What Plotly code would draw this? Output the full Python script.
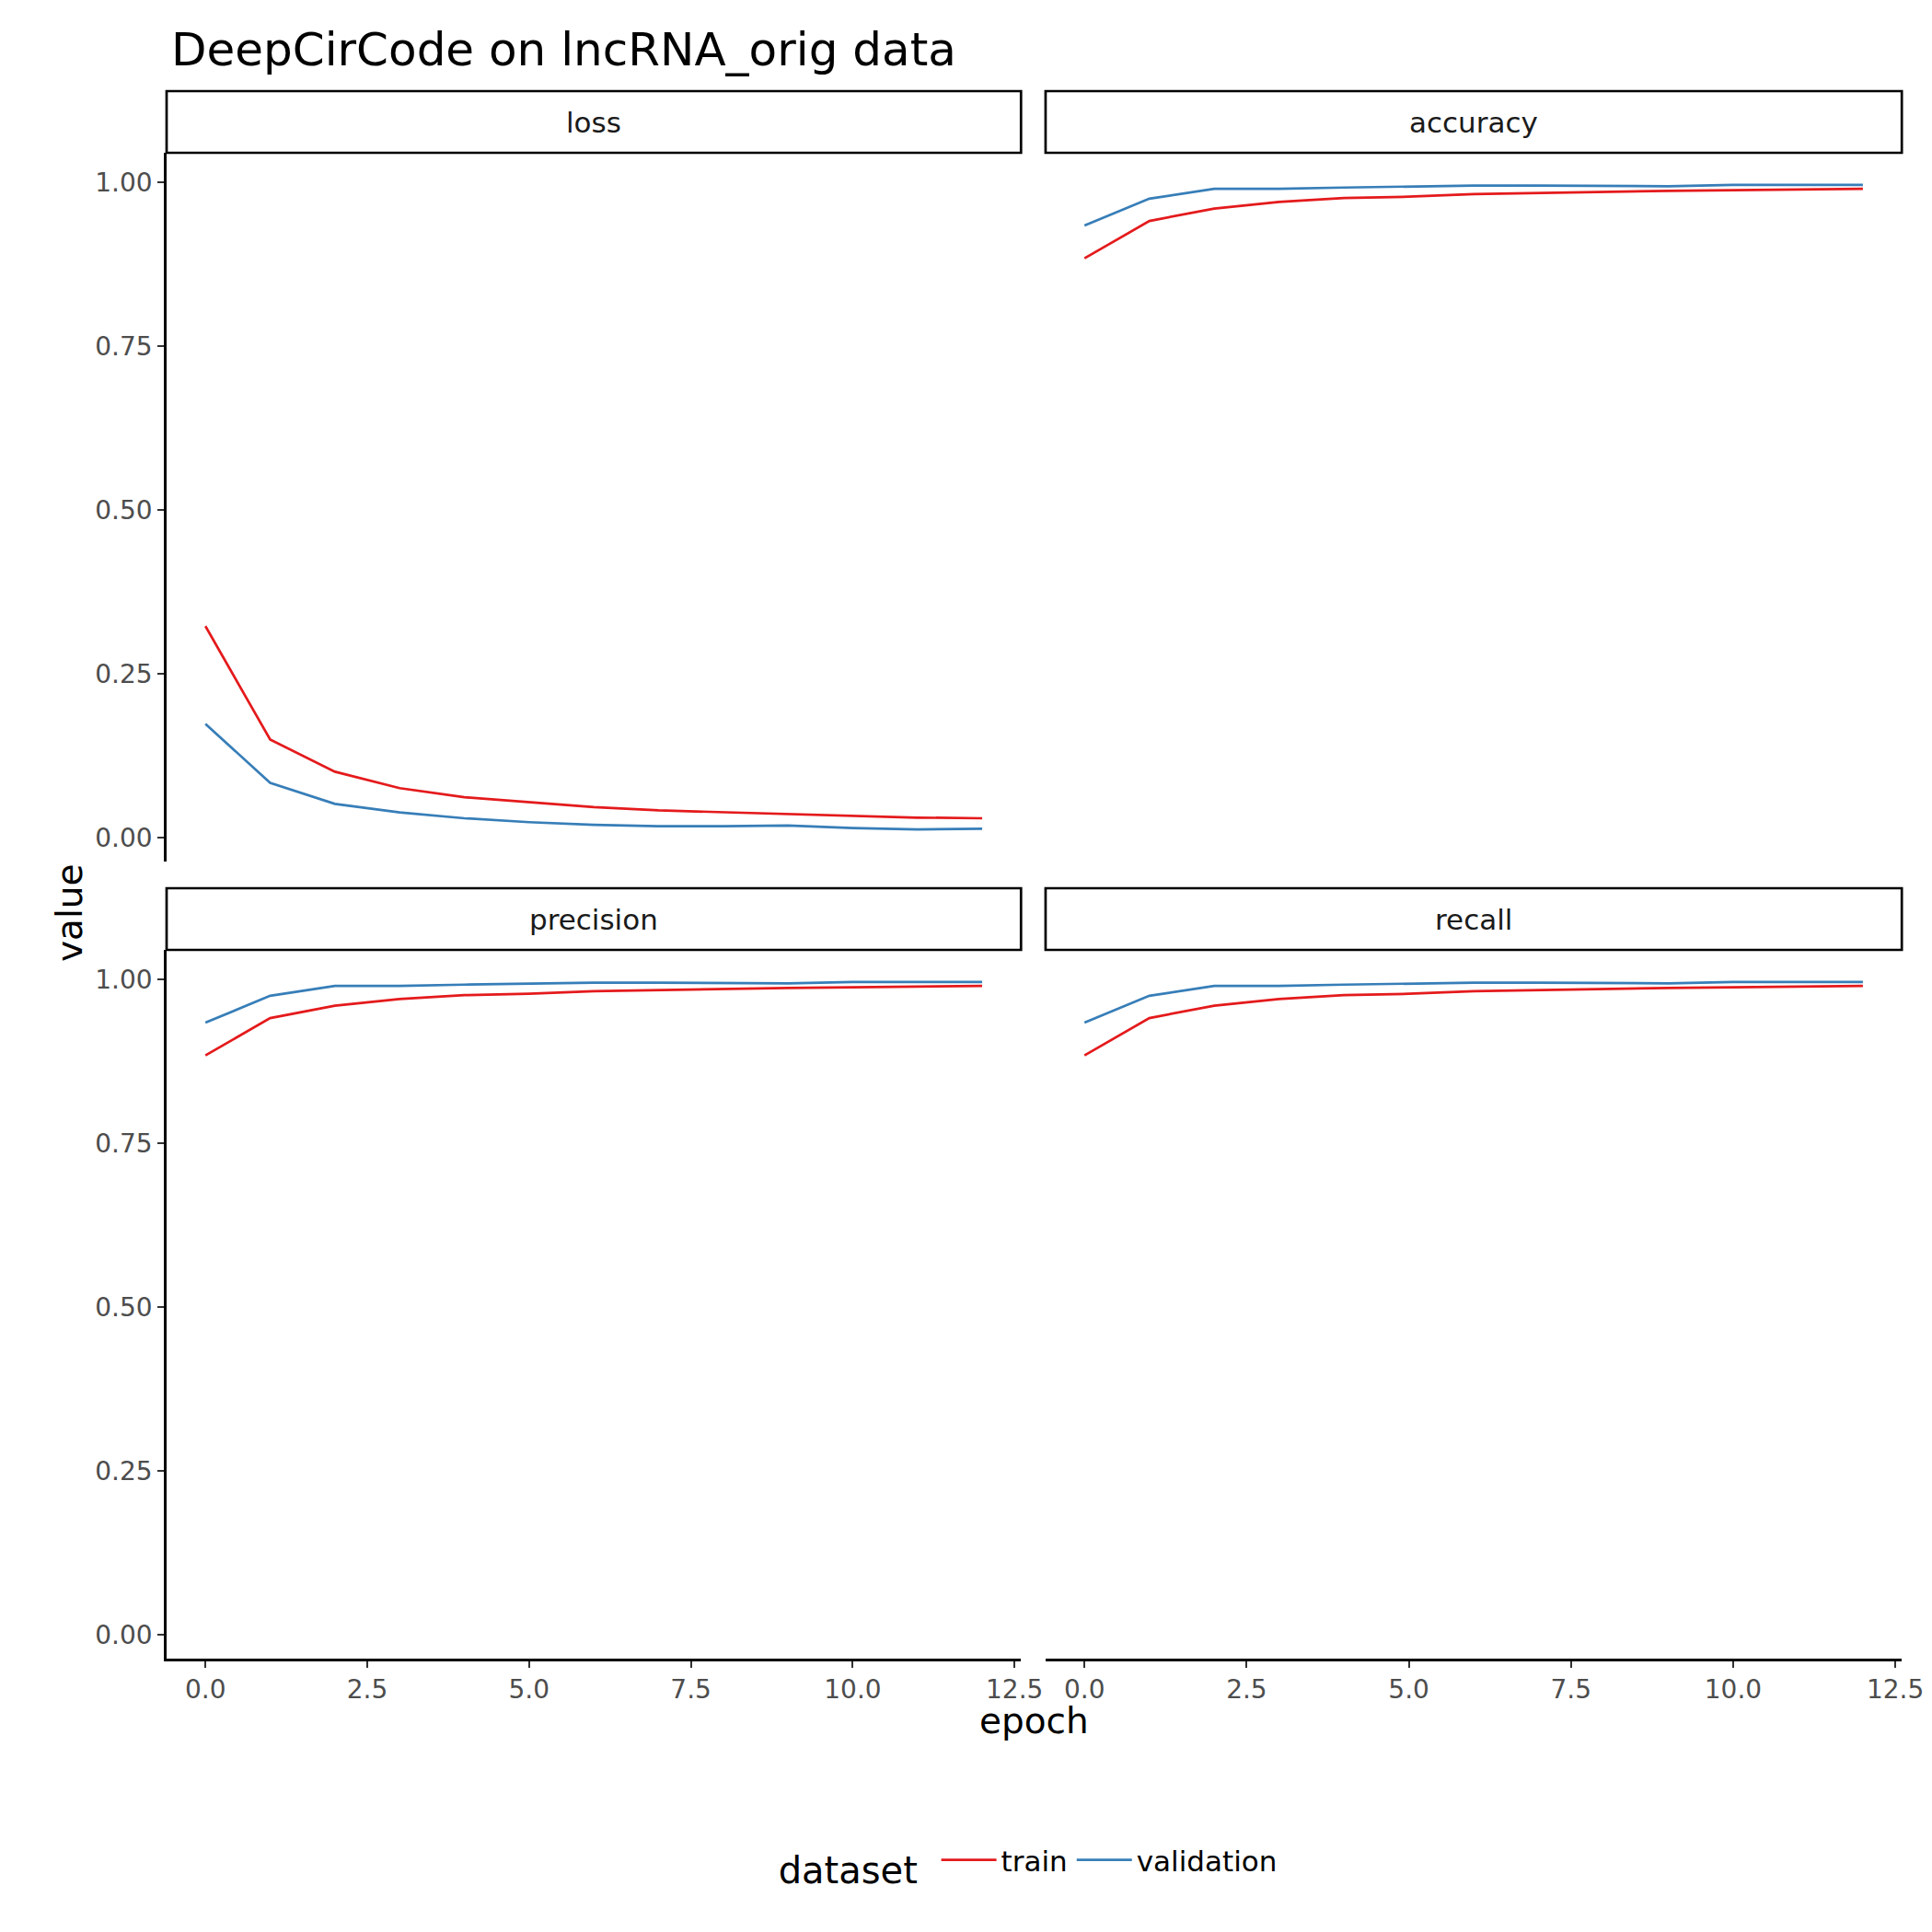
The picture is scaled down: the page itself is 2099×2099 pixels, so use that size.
import plotly.graph_objects as go

epoch = list(range(13))
loss_train = [0.323, 0.150, 0.101, 0.076, 0.062, 0.055, 0.047, 0.042, 0.039, 0.037, 0.034, 0.031, 0.030]
loss_val = [0.174, 0.084, 0.052, 0.039, 0.030, 0.024, 0.020, 0.018, 0.018, 0.019, 0.015, 0.013, 0.014]
acc_train = [0.884, 0.941, 0.960, 0.970, 0.976, 0.978, 0.982, 0.984, 0.985, 0.987, 0.988, 0.989, 0.990]
acc_val = [0.934, 0.975, 0.990, 0.990, 0.992, 0.994, 0.995, 0.995, 0.995, 0.994, 0.996, 0.996, 0.996]
prec_train = acc_train
prec_val = acc_val
rec_train = acc_train
rec_val = acc_val

panels = [
    ("loss", loss_train, loss_val),
    ("accuracy", acc_train, acc_val),
    ("precision", prec_train, prec_val),
    ("recall", rec_train, rec_val),
]

W = 2099
RED = "#e41a1c"
BLUE = "#377eb8"

# pixel boxes of the panels: (left, right, top, bottom)
xcols = [(175, 1114), (1141, 2082)]
yrows = [(158, 928), (1024, 1794)]
strip_h = 67

fig = go.Figure()
shapes = []
annotations = []
for i, (name, tr, va) in enumerate(panels):
    r, c = divmod(i, 2)
    n = i + 1
    xa = "x" if n == 1 else f"x{n}"
    ya = "y" if n == 1 else f"y{n}"
    fig.add_trace(go.Scatter(x=epoch, y=tr, mode="lines", name="train", legendgroup="train",
                             showlegend=(i == 0), line=dict(color=RED, width=2.7), xaxis=xa, yaxis=ya))
    fig.add_trace(go.Scatter(x=epoch, y=va, mode="lines", name="validation", legendgroup="validation",
                             showlegend=(i == 0), line=dict(color=BLUE, width=2.7), xaxis=xa, yaxis=ya))
    l, rr = xcols[c]
    t, b = yrows[r]
    key = "" if n == 1 else str(n)
    fig.update_layout(**{
        f"xaxis{key}": dict(domain=[l / W, rr / W], range=[-0.6, 12.6], anchor=ya,
                            tickvals=[0, 2.5, 5, 7.5, 10, 12.5],
                            ticktext=["0.0", "2.5", "5.0", "7.5", "10.0", "12.5"],
                            showticklabels=(r == 1), showline=(r == 1), linecolor="black", linewidth=2.5,
                            ticks="outside" if r == 1 else "", ticklen=7, tickcolor="#333", tickwidth=2,
                            showgrid=False, zeroline=False,
                            tickfont=dict(size=28, color="#4d4d4d")),
        f"yaxis{key}": dict(domain=[1 - b / W, 1 - t / W], range=[-0.036, 1.045], anchor=xa,
                            tickvals=[0, 0.25, 0.5, 0.75, 1.0],
                            ticktext=["0.00", "0.25", "0.50", "0.75", "1.00"],
                            showticklabels=(c == 0), showline=(c == 0), linecolor="black", linewidth=2.5,
                            ticks="outside" if c == 0 else "", ticklen=7, tickcolor="#333", tickwidth=2,
                            showgrid=False, zeroline=False,
                            tickfont=dict(size=28, color="#4d4d4d")),
    })
    shapes.append(dict(type="rect", xref="paper", yref="paper", x0=l / W, x1=rr / W,
                       y0=1 - t / W, y1=1 - (t - strip_h) / W, line=dict(color="black", width=2.7),
                       fillcolor="white"))
    annotations.append(dict(text=name, xref="paper", yref="paper", x=(l + rr) / 2 / W,
                            y=1 - (t - strip_h / 2) / W, showarrow=False,
                            font=dict(size=31, color="#1a1a1a"), xanchor="center", yanchor="middle"))

annotations.append(dict(text="epoch", xref="paper", yref="paper", x=(175 + 2082) / 2 / W, y=1 - 1886 / W,
                        showarrow=False, font=dict(size=39, color="black")))
annotations.append(dict(text="value", xref="paper", yref="paper", x=43 / W, y=1 - 984 / W, textangle=-90,
                        showarrow=False, font=dict(size=39, color="black")))

fig.update_layout(
    width=W, height=W,
    margin=dict(l=0, r=0, t=0, b=0),
    paper_bgcolor="white", plot_bgcolor="white",
    font=dict(family="DejaVu Sans", color="black"),
    title=dict(text="DeepCirCode on lncRNA_orig data", x=178 / W, xanchor="left",
               y=1 - 45 / W, yanchor="middle", font=dict(size=50, color="black")),
    shapes=shapes, annotations=annotations,
    legend=dict(orientation="h", x=0.535, xanchor="center", y=1 - 2017 / W, yanchor="middle",
                itemwidth=60, tracegroupgap=20,
                title=dict(text="dataset ", font=dict(size=40, color="black")),
                font=dict(size=31, color="black")),
)

fig.write_html("out.html")
